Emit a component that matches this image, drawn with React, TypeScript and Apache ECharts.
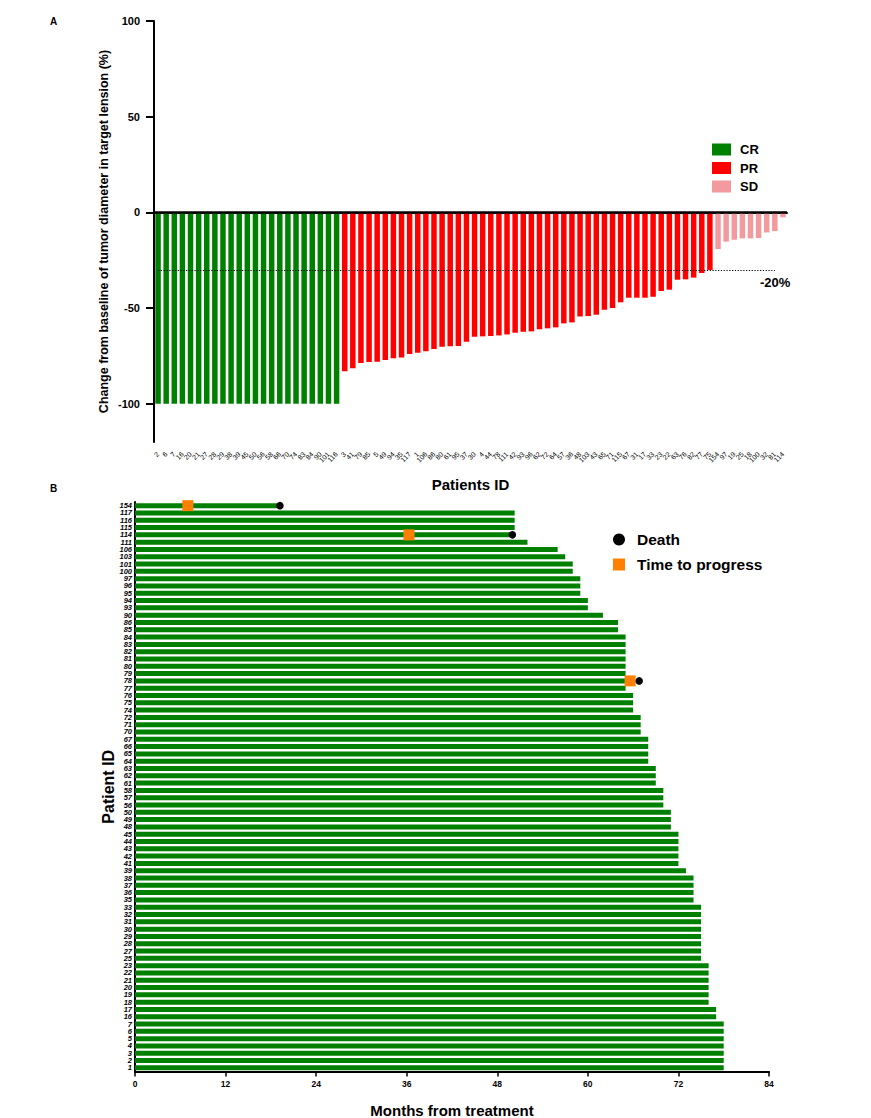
import React, { useEffect, useRef } from "react";
import * as echarts from "echarts";

// ---------- Panel A data ----------
const crIds = ["2","6","7","16","20","21","27","28","29","38","39","45","50","56","58","66","70","74","83","84","90","101","116"];
const crValues = [-100,-100,-100,-100,-100,-100,-100,-100,-100,-100,-100,-100,-100,-100,-100,-100,-100,-100,-100,-100,-100,-100,-100];
const prIds = ["3","41","79","85","5","49","94","35","117","1","106","86","80","61","95","37","30","4","44","78","111","42","93","96","62","72","64","57","36","48","103","43","65","71","115","67","31","17","33","23","22","63","76","82","77","75"];
const prValues = [-83,-81.5,-78.7,-78.2,-78,-77.2,-76.3,-75.8,-74,-73.3,-72.6,-71.4,-70.2,-70,-69.8,-67.6,-65,-64.8,-64.6,-64.3,-63.8,-62.9,-62.4,-62.2,-61.1,-60.6,-60.1,-58,-57.5,-54.4,-54.2,-53.5,-50.9,-50,-47,-44.6,-44.6,-44.6,-44.1,-41.1,-40.4,-35.2,-35,-34.1,-31.7,-30.1];
const sdIds = ["154","97","19","25","18","100","32","81","114"];
const sdValues = [-19.2,-15.3,-14.3,-13.6,-13.6,-13.4,-10.5,-9.8,-2.6];
const yTicksA = [-100, -50, 0, 50, 100];
const thresholdA = -30;

// ---------- Panel B data ----------
const patientIdsB = ["154","117","116","115","114","111","106","103","101","100","97","96","95","94","93","90","86","85","84","83","82","81","80","79","78","77","76","75","74","72","71","70","67","66","65","64","63","62","61","58","57","56","50","49","48","45","44","43","42","41","39","38","37","36","35","33","32","31","30","29","28","27","25","23","22","21","20","19","18","17","16","7","6","5","4","3","2","1"];
const monthsB = [19,50.3,50.3,50.3,50,52,56,57,58,58,59,59,59,60,60,62,64,64,65,65,65,65,65,65,65,65,66,66,66,67,67,67,68,68,68,68,69,69,69,70,70,70,71,71,71,72,72,72,72,72,73,74,74,74,74,75,75,75,75,75,75,75,75,76,76,76,76,76,76,77,77,78,78,78,78,78,78,78];
const deathIds = ["154","114","78"];
const deathMonths = [19.2,50,66.8];
const progressIds = ["154","114","78"];
const progressMonths = [7,36.3,65.6];
const xTicksB = [0, 12, 24, 36, 48, 60, 72, 84];

const FONT = "Liberation Sans, Arial, sans-serif";
const GREEN = "#008000";
const RED = "#ff0000";
const PINK = "#f39a9e";

export default function App() {
  const ref = useRef<HTMLDivElement>(null);
  useEffect(() => {
    if (!ref.current) return;
    const chart = echarts.init(ref.current, null, { renderer: "svg" });
    const categoriesA = [...crIds, ...prIds, ...sdIds];
    const nA = categoriesA.length;
    const pad = (arr: number[], before: number) => {
      const out: any[] = [];
      for (let i = 0; i < nA; i++) out.push("-");
      arr.forEach((v, i) => (out[before + i] = v));
      return out;
    };
    const crData = pad(crValues, 0);
    const prData = pad(prValues, crIds.length);
    const sdData = pad(sdValues, crIds.length + prIds.length);

    const barA = (name: string, data: any[], color: string, extra: any = {}) => ({
      name,
      type: "bar",
      xAxisIndex: 0,
      yAxisIndex: 0,
      data,
      barWidth: 5.5,
      barGap: "-100%",
      itemStyle: { color },
      ...extra,
    });

    const option: any = {
      animation: false,
      textStyle: { fontFamily: FONT },
      grid: [
        { left: 154, top: 21, width: 633, height: 421, outerBoundsMode: "none", containLabel: false },
        { left: 135, top: 502, width: 634, height: 569.5, outerBoundsMode: "none", containLabel: false },
      ],
      legend: [
        {
          data: ["CR", "PR", "SD"],
          orient: "vertical",
          left: 712,
          top: 143,
          padding: 0,
          icon: "rect",
          itemWidth: 19,
          itemHeight: 12,
          itemGap: 5.5,
          textStyle: { fontSize: 13, fontWeight: "bold", color: "#000", fontFamily: FONT, lineHeight: 13, padding: [0, 0, 0, 4] },
        },
        {
          data: [
            { name: "Death", icon: "circle" },
            { name: "Time to progress", icon: "rect" },
          ],
          orient: "vertical",
          left: 613,
          top: 531,
          padding: 0,
          itemWidth: 12,
          itemHeight: 12,
          itemGap: 8,
          textStyle: { fontSize: 15.5, fontWeight: "bold", color: "#000", fontFamily: FONT, lineHeight: 17, padding: [0, 0, 0, 7] },
        },
      ],
      xAxis: [
        {
          type: "category",
          gridIndex: 0,
          data: categoriesA,
          name: "Patients ID",
          nameLocation: "middle",
          nameGap: 35,
          nameMoveOverlap: false,
          nameTextStyle: { fontSize: 15, fontWeight: "bold", color: "#000", fontFamily: FONT },
          axisLine: { lineStyle: { color: "#000", width: 2 } },
          axisTick: { alignWithLabel: true, length: 8, lineStyle: { color: "#000", width: 1.5 } },
          axisLabel: { interval: 0, rotate: 45, fontSize: 7, color: "#000", margin: 11, fontFamily: FONT },
        },
        {
          type: "value",
          gridIndex: 1,
          min: 0,
          max: 84,
          interval: 12,
          name: "Months from treatment",
          nameLocation: "middle",
          nameGap: 31,
          nameMoveOverlap: false,
          nameTextStyle: { fontSize: 15, fontWeight: "bold", color: "#000", fontFamily: FONT },
          axisLine: { show: true, lineStyle: { color: "#000", width: 2 } },
          axisTick: { show: true, length: 5, lineStyle: { color: "#000", width: 1.5 } },
          axisLabel: { fontSize: 8.5, fontWeight: "bold", color: "#000", margin: 8, fontFamily: FONT, customValues: xTicksB },
          splitLine: { show: false },
        },
      ],
      yAxis: [
        {
          type: "value",
          gridIndex: 0,
          min: -120,
          max: 100,
          name: "Change from baseline of tumor diameter in target lension (%)",
          nameLocation: "middle",
          nameGap: 44,
          nameMoveOverlap: false,
          nameTextStyle: { fontSize: 12.5, fontWeight: "bold", color: "#000", fontFamily: FONT },
          axisLine: { show: true, lineStyle: { color: "#000", width: 2 } },
          axisTick: { show: true, length: 8, lineStyle: { color: "#000", width: 2 }, customValues: yTicksA },
          axisLabel: { fontSize: 11, fontWeight: "bold", color: "#000", margin: 14, fontFamily: FONT, customValues: yTicksA },
          splitLine: { show: false },
        },
        {
          type: "category",
          gridIndex: 1,
          data: patientIdsB,
          inverse: true,
          name: "Patient ID",
          nameLocation: "middle",
          nameGap: 19,
          nameMoveOverlap: false,
          nameTextStyle: { fontSize: 16, fontWeight: "bold", color: "#000", fontFamily: FONT },
          axisLine: { lineStyle: { color: "#000", width: 2 } },
          axisTick: { alignWithLabel: true, length: 2, lineStyle: { color: "#000", width: 1 } },
          axisLabel: { interval: 0, fontSize: 7.5, fontStyle: "italic", fontWeight: "bold", color: "#000", margin: 3, fontFamily: FONT },
        },
      ],
      series: [
        barA("CR", crData, GREEN, {
          markLine: {
            silent: true,
            symbol: "none",
            label: { show: false },
            data: [
              { yAxis: 0, lineStyle: { color: "#000", width: 2.5, type: "solid" } },
              [
                { coord: [0, thresholdA], lineStyle: { color: "#000", width: 1.2, type: [1.2, 1.6] } },
                { coord: [76, thresholdA] },
              ],
            ],
          },
        }),
        barA("PR", prData, RED),
        barA("SD", sdData, PINK),
        {
          name: "Months",
          type: "bar",
          xAxisIndex: 1,
          yAxisIndex: 1,
          data: monthsB,
          barWidth: 5,
          itemStyle: { color: GREEN },
        },
        {
          name: "Time to progress",
          type: "scatter",
          xAxisIndex: 1,
          yAxisIndex: 1,
          symbol: "rect",
          symbolSize: 11,
          itemStyle: { color: "#ff8000", opacity: 1 },
          data: progressIds.map((id, i) => [progressMonths[i], id]),
          z: 3,
        },
        {
          name: "Death",
          type: "scatter",
          xAxisIndex: 1,
          yAxisIndex: 1,
          symbol: "circle",
          symbolSize: 7.5,
          itemStyle: { color: "#000", opacity: 1 },
          data: deathIds.map((id, i) => [deathMonths[i], id]),
          z: 4,
        },
      ],
      graphic: [
        { type: "text", left: 50, top: 16, style: { text: "A", fontSize: 10, fontWeight: "bold", fill: "#000", fontFamily: FONT } },
        { type: "text", left: 50, top: 483, style: { text: "B", fontSize: 10, fontWeight: "bold", fill: "#000", fontFamily: FONT } },
        { type: "text", left: 760, top: 276, style: { text: "-20%", fontSize: 13, fontWeight: "bold", fill: "#000", fontFamily: FONT } },
      ],
    };
    chart.setOption(option);
    return () => chart.dispose();
  }, []);
  return (
    <div
      ref={ref}
      style={{ position: "fixed", left: 0, top: 0, width: 871, height: 1118, background: "#fff" }}
    />
  );
}
